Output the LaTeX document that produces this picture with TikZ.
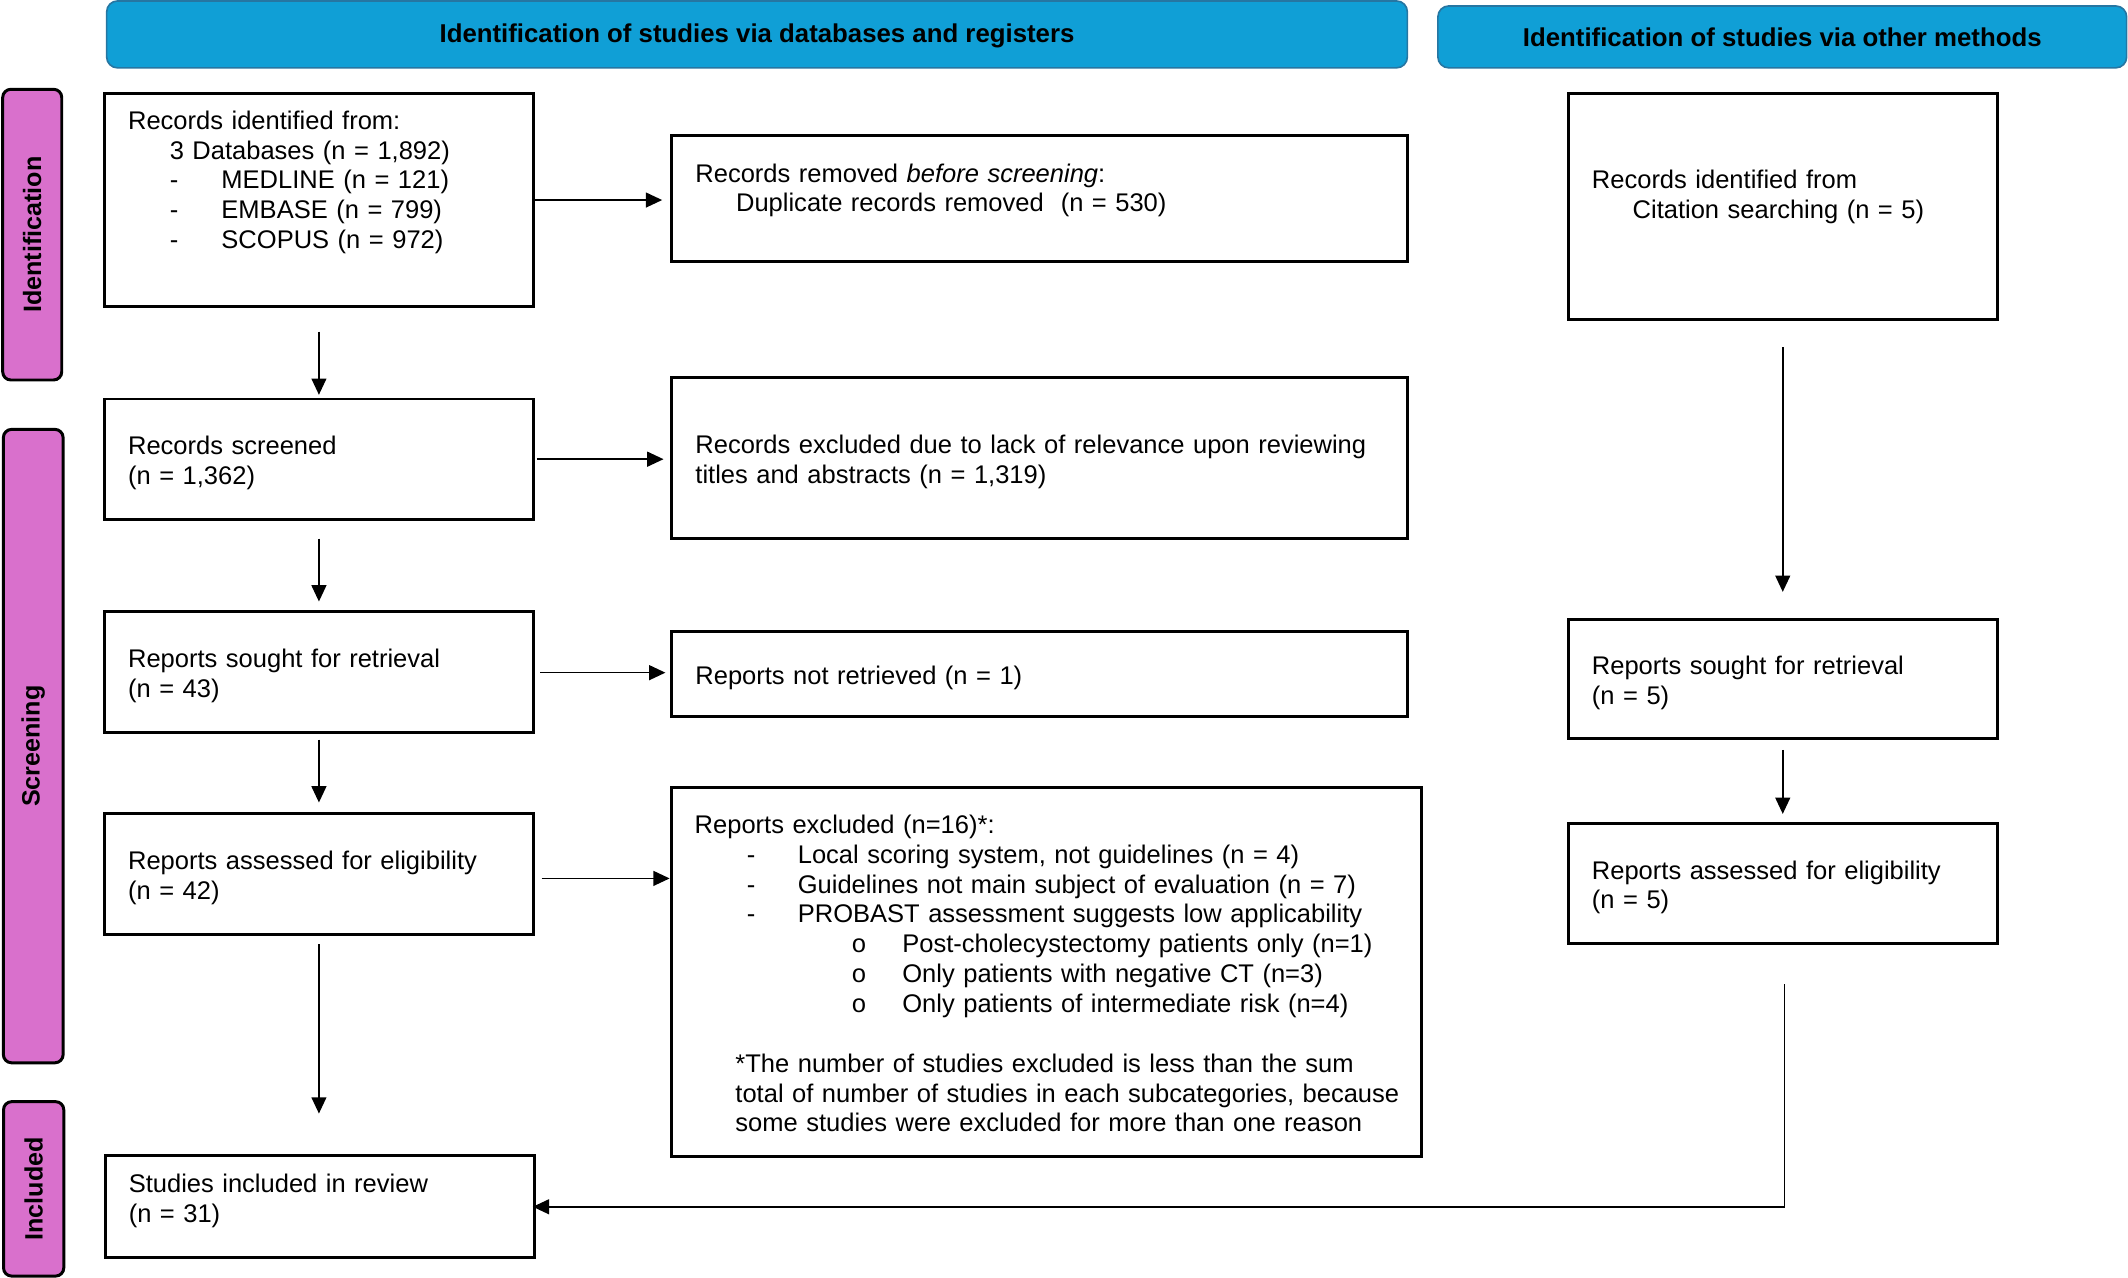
\documentclass[tikz,border=0pt]{standalone}
\usepackage{fontspec}
\setmainfont{Liberation Sans}
\newfontfamily\circfont{Liberation Mono}
\usetikzlibrary{arrows.meta,calc}
\definecolor{hdrblue}{RGB}{16,159,214}
\definecolor{hdredge}{RGB}{38,118,162}
\definecolor{phasepink}{RGB}{217,112,204}
\newcommand\fbody{\fontsize{18.8}{22}\selectfont}
\newcommand\fhdr{\fontsize{19}{22}\selectfont\bfseries}
\newcommand\fphase{\fontsize{18.5}{22}\selectfont\bfseries}
\newcommand\xdepth[1]{\rule[-#1]{0pt}{#1}}
\newcommand\tstrut{\rule{0pt}{19.5pt}}
\tikzset{
  box/.style={draw=black, line width=2.2pt, fill=white, inner xsep=17.4pt, inner ysep=0pt, align=left, font=\fbody},
  hdr/.style={draw=hdredge, line width=1.2pt, fill=hdrblue, rounded corners=8pt, font=\fhdr, inner sep=0pt},
  phasebox/.style={draw=black, line width=2.2pt, fill=phasepink, rounded corners=6pt, inner sep=0pt, rotate=90, font=\fphase},
  arr/.style={line width=1.1pt, -{Triangle[length=12pt,width=11pt]}},
}
\begin{document}
\begin{tikzpicture}[x=1pt,y=-1pt]
\useasboundingbox (0,0) rectangle (1568,941);

% headers
\node[hdr, minimum width=958.4pt, minimum height=49.3pt] (h1) at (557.8,25.35) {\rule{0pt}{16pt}Identification of studies via databases and registers};
\node[hdr, minimum width=507.5pt, minimum height=45.6pt] (h2) at (1313.25,27.2) {Identification of studies via other methods};

% phase labels
\node[phasebox, minimum width=214.2pt, minimum height=43.5pt] (pid) at (23.75,172.9) {Identification};
\node[phasebox, minimum width=466.7pt, minimum height=44pt] (pscr) at (24.5,549.75) {Screening};
\node[phasebox, minimum width=128.5pt, minimum height=44.4pt] (pinc) at (24.8,876) {Included};

% left column
\node[box, minimum width=316pt, text width=281.2pt, minimum height=157.2pt] (b1) at (235,147.4)
 {\tstrut Records identified from:\\
  \hspace*{30.7pt}3 Databases (n = 1,892)\\
  \hspace*{30.7pt}\makebox[38.1pt][l]{-}MEDLINE (n = 121)\\
  \hspace*{30.7pt}\makebox[38.1pt][l]{-}EMBASE (n = 799)\\
  \hspace*{30.7pt}\makebox[38.1pt][l]{-}SCOPUS (n = 972)\xdepth{35.8pt}};
\node[box, minimum width=316pt, text width=281.2pt, minimum height=88.7pt] (b2) at (235,338.35)
 {\tstrut Records screened\\(n = 1,362)};
\node[box, minimum width=316pt, text width=281.2pt, minimum height=89.1pt] (b3) at (235,494.85)
 {\tstrut Reports sought for retrieval\\(n = 43)};
\node[box, minimum width=316pt, text width=281.2pt, minimum height=89.1pt] (b4) at (235,643.95)
 {\tstrut Reports assessed for eligibility\\(n = 42)};
\node[box, minimum width=316pt, text width=281.2pt, minimum height=75.2pt] (b5) at (235.5,889.2)
 {\tstrut Studies included in review\\(n = 31)\xdepth{18pt}};

% middle column
\node[box, minimum width=542pt, text width=507.2pt, minimum height=92.9pt] (m1) at (766,146.25)
 {\tstrut Records removed \textit{before screening}:\\
  \hspace*{30pt}Duplicate records removed\ \ (n = 530)\xdepth{21.75pt}};
\node[box, minimum width=542pt, text width=507.2pt, minimum height=118.5pt] (m2) at (766,337.25)
 {\tstrut Records excluded due to lack of relevance upon reviewing\\titles and abstracts (n = 1,319)};
\node[box, minimum width=542pt, text width=507.2pt, minimum height=62.5pt] (m3) at (766,496.75)
 {\tstrut Reports not retrieved (n = 1)};
\node[box, minimum width=552.7pt, text width=517.9pt, minimum height=272.1pt] (m4) at (770.85,716.35)
 {\rule{0pt}{15.5pt}Reports excluded (n=16)*:\\
  \hspace*{38.5pt}\makebox[37.5pt][l]{-}Local scoring system, not guidelines (n = 4)\\
  \hspace*{38.5pt}\makebox[37.5pt][l]{-}Guidelines not main subject of evaluation (n = 7)\\
  \hspace*{38.5pt}\makebox[37.5pt][l]{-}PROBAST assessment suggests low applicability\\
  \hspace*{115.5pt}\makebox[37.5pt][l]{\circfont o}Post-cholecystectomy patients only (n=1)\\
  \hspace*{115.5pt}\makebox[37.5pt][l]{\circfont o}Only patients with negative CT (n=3)\\
  \hspace*{115.5pt}\makebox[37.5pt][l]{\circfont o}Only patients of intermediate risk (n=4)\\[22pt]
  \hspace*{30pt}\mbox{*The number of studies excluded is less than the sum}\\
  \hspace*{30pt}\mbox{total of number of studies in each subcategories, because}\\
  \hspace*{30pt}\mbox{some studies were excluded for more than one reason}};

% right column
\node[box, minimum width=316pt, text width=281.2pt, minimum height=166.4pt] (r1) at (1313.6,152)
 {\tstrut Records identified from\\
  \hspace*{30pt}Citation searching (n = 5)\xdepth{23.2pt}};
\node[box, minimum width=316pt, text width=281.2pt, minimum height=87.6pt] (r2) at (1313.6,500)
 {\tstrut Reports sought for retrieval\\(n = 5)};
\node[box, minimum width=316pt, text width=281.2pt, minimum height=88.2pt] (r3) at (1313.6,650.9)
 {\tstrut Reports assessed for eligibility\\(n = 5)};

% vertical connectors
\draw[arr, shorten <=17.3pt, shorten >=2pt] (b1.south) -- (b1.south |- b2.north);
\draw[arr, shorten <=13pt, shorten >=6pt] (b2.south) -- (b2.south |- b3.north);
\draw[arr, shorten <=4.4pt, shorten >=7pt] (b3.south) -- (b3.south |- b4.north);
\draw[arr, shorten <=6pt, shorten >=30pt] (b4.south) -- (b4.south |- b5.north);
\draw[arr, shorten <=19.5pt, shorten >=19pt] (r1.south) -- (r1.south |- r2.north);
\draw[arr, shorten <=7.7pt, shorten >=6pt] (r2.south) -- (r2.south |- r3.north);
\draw[arr, shorten <=29pt, shorten >=-2pt] ([xshift=1.4pt]r3.south) |- (b5.east);

% horizontal connectors
\draw[arr, shorten >=6pt] (b1.east) -- (b1.east -| m1.west);
\draw[arr, shorten <=1.5pt, shorten >=5pt] (b2.east) -- (b2.east -| m2.west);
\draw[arr, shorten <=4pt, shorten >=3.6pt] ([yshift=-0.8pt]b3.east) -- ([yshift=-0.8pt]b3.east -| m3.west);
\draw[arr, shorten <=5pt, shorten >=0pt] ([yshift=-3.3pt]b4.east) -- ([yshift=-3.3pt]b4.east -| m4.west);
\end{tikzpicture}
\end{document}
